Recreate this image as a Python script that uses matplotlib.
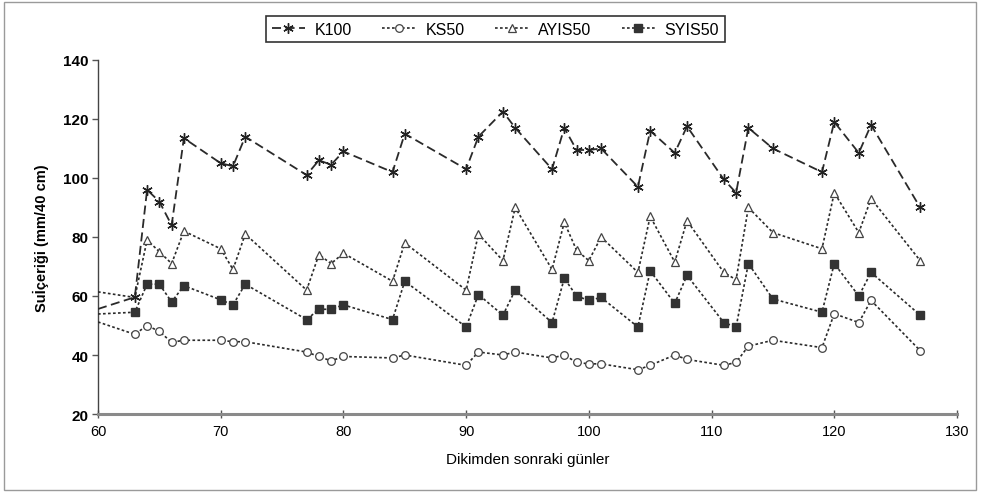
import matplotlib
matplotlib.use("Agg")
import matplotlib.pyplot as plt
from matplotlib.patches import Rectangle

plt.rcParams['font.family'] = ['Liberation Sans', 'DejaVu Sans']

# ---- data (day 60 = value where each line enters the plot; no marker there) ----
days = [60, 63, 64, 65, 66, 67, 70, 71, 72, 77, 78, 79, 80, 84, 85, 90, 91, 93, 94,
        97, 98, 99, 100, 101, 104, 105, 107, 108, 111, 112, 113, 115, 119, 120, 122, 123, 127]
K100 = [55.6, 59.6, 96, 92, 84, 113.5, 105, 104, 114, 101, 106, 104.5, 109, 102, 115, 103,
        114, 122.5, 117, 103, 117, 109.5, 109.5, 110, 97, 116, 108.5, 117.5, 99.5, 95, 117,
        110, 102, 119, 108.5, 118, 90]
KS50 = [51.2, 47, 50, 48, 44.3, 45, 45, 44.5, 44.5, 41, 39.5, 38, 39.5, 39, 40, 36.5, 41,
        40, 41, 39, 40, 37.5, 37, 37, 35, 36.5, 40, 38.5, 36.5, 37.5, 43, 45, 42.5, 54, 51,
        58.5, 41.5]
AYIS50 = [61.4, 59.5, 79, 75, 71, 82, 76, 69, 81, 62, 74, 71, 74.5, 65, 78, 62, 81, 72, 90,
          69, 85, 75.5, 72, 80, 68, 87, 71.5, 85.5, 68, 65.5, 90, 81.5, 76, 95, 81.5, 93, 72]
SYIS50 = [53.9, 54.5, 64, 64, 58, 63.5, 58.7, 57, 64, 52, 55.5, 55.5, 57, 52, 65, 49.5, 60.5,
          53.5, 62, 51, 66, 60, 58.5, 59.5, 49.5, 68.5, 57.5, 67, 51, 49.5, 71, 59, 54.5, 71,
          60, 68, 53.5]
series_names = ["K100", "KS50", "AYIS50", "SYIS50"]
x_ticks = [60, 70, 80, 90, 100, 110, 120, 130]
y_ticks = [20, 40, 60, 80, 100, 120, 140]

fig = plt.figure(figsize=(9.81, 5.02), dpi=100)
ax = fig.add_axes([0.0999, 0.1733, 0.8756, 0.7052])

lc = '#2a2a2a'
mark_from1 = list(range(1, len(days)))
mark_ay = list(range(2, len(days)))

ax.plot(days, KS50, linestyle=(0, (1.6, 1.4)), lw=1.2, color=lc, marker='o', ms=5.5,
        mfc='white', mec='#444444', mew=0.9, markevery=mark_from1, label=series_names[1], zorder=3)
ax.plot(days, AYIS50, linestyle=(0, (1.6, 1.4)), lw=1.2, color=lc, marker='^', ms=6,
        mfc='white', mec='#444444', mew=0.9, markevery=mark_ay, label=series_names[2], zorder=3)
ax.plot(days, SYIS50, linestyle=(0, (1.6, 1.4)), lw=1.2, color=lc, marker='s', ms=5.5,
        mfc='#333333', mec='#333333', markevery=mark_from1, label=series_names[3], zorder=3)
ax.plot(days, K100, linestyle=(0, (5, 2.5)), lw=1.3, color=lc, marker=(6, 2, 0), ms=7.5,
        mec='#222222', mew=1.0, markevery=mark_from1, label=series_names[0], zorder=4)

ax.set_xlim(60, 130)
ax.set_ylim(20, 140)
ax.set_xticks(x_ticks)
ax.set_yticks(y_ticks)
ax.tick_params(axis='y', direction='out', length=4, width=1, color='#555555',
               labelsize=11, pad=3)
ax.tick_params(axis='x', direction='inout', length=6, width=1, color='#555555',
               labelsize=10.5, pad=4)
for lab in ax.get_yticklabels():
    lab.set_fontweight('bold')

for s in ['top', 'right']:
    ax.spines[s].set_visible(False)
ax.spines['left'].set_color('#444444')
ax.spines['left'].set_linewidth(1.0)
ax.spines['bottom'].set_color('#8a8a8a')
ax.spines['bottom'].set_linewidth(2.2)

ax.set_ylabel("Suİçeriği (mm/40 cm)", fontsize=10.5, fontweight='bold', labelpad=10)
ax.set_xlabel("Dikimden sonraki günler", fontsize=11, labelpad=10)

handles, labels = ax.get_legend_handles_labels()
order = [labels.index(n) for n in series_names]
leg = fig.legend([handles[i] for i in order], [labels[i] for i in order],
                 loc='center', bbox_to_anchor=(0.505, 0.940), ncol=4, frameon=True,
                 fancybox=False, edgecolor='black', fontsize=11.5, handlelength=2.1,
                 columnspacing=1.9, borderpad=0.35, handletextpad=0.6)
leg.get_frame().set_linewidth(1.2)

fig.patches.append(Rectangle((0.004, 0.022), 0.991, 0.972, transform=fig.transFigure,
                             fill=False, edgecolor='#9a9a9a', lw=1.0))

fig.savefig("out.png", dpi=100)
